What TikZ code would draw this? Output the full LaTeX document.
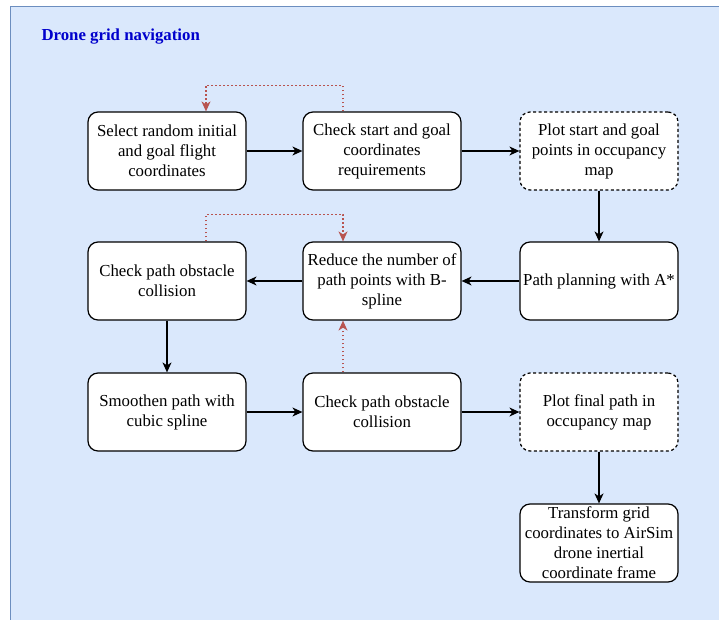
\documentclass[tikz,border=0pt]{standalone}
\usepackage{fontspec}
\setmainfont{Liberation Serif}
\usetikzlibrary{arrows.meta,calc}
\definecolor{panelfill}{HTML}{DAE8FC}
\definecolor{panelline}{HTML}{6C8EBF}
\definecolor{loopred}{HTML}{B85450}
\definecolor{titleblue}{HTML}{0000CC}
\begin{document}
\begin{tikzpicture}[x=1pt,y=-1pt,
  stepbox/.style={draw=black, line width=1.2pt, fill=white, rounded corners=10pt,
    minimum width=158pt, minimum height=78pt, inner sep=0pt, align=center,
    font=\fontsize{16.8}{20}\selectfont},
  planbox/.style={stepbox, dashed, dash pattern=on 3pt off 2.5pt},
  flow/.style={draw=black, line width=1.2pt, -{Stealth[length=10pt,width=9pt,inset=3pt]}},
  backloop/.style={draw=loopred, line width=1.4pt, dash pattern=on 1.6pt off 2.4pt,
    -{Stealth[length=10pt,width=9pt,inset=3pt,fill=loopred,sep=0pt]}}]
\useasboundingbox (0,0) rectangle (719,620);
\clip (0,0) rectangle (719,620);
% panel
\draw[fill=panelfill, draw=panelline, line width=1.2pt] (10.5,6.5) rectangle (740,640);
\node[anchor=west, text=titleblue, font=\fontsize{16.8}{20}\selectfont\bfseries] (title) at (38,37) {Drone grid navigation};
% steps
\node[stepbox] (b1) at (167,151) {Select random initial\\and goal flight\\coordinates};
\node[stepbox] (b2) at (382,151) {Check start and goal\\coordinates\\requirements};
\node[planbox] (b3) at (599,151) {Plot start and goal\\points in occupancy\\map};
\node[stepbox] (b4) at (599,281) {Path planning with A*};
\node[stepbox] (b5) at (382,281) {Reduce the number of\\path points with B-\\spline};
\node[stepbox] (b6) at (167,281) {Check path obstacle\\collision};
\node[stepbox] (b7) at (167,412) {Smoothen path with\\cubic spline};
\node[stepbox] (b8) at (382,412) {Check path obstacle\\collision};
\node[planbox] (b9) at (599,412) {Plot final path in\\occupancy map};
\node[stepbox] (b10) at (599,543) {Transform grid\\coordinates to AirSim\\drone inertial\\coordinate frame};
% main flow
\draw[flow] (b1) -- (b2);
\draw[flow] (b2) -- (b3);
\draw[flow] (b3) -- (b4);
\draw[flow] (b4) -- (b5);
\draw[flow] (b5) -- (b6);
\draw[flow] (b6) -- (b7);
\draw[flow] (b7) -- (b8);
\draw[flow] (b8) -- (b9);
\draw[flow] (b9) -- (b10);
% feedback loops
\draw[backloop] ([xshift=-39pt]b2.north) -- ++(0,-26) -| ([xshift=39pt]b1.north);
\draw[backloop] ([xshift=39pt]b6.north) -- ++(0,-27) -| ([xshift=-39pt]b5.north);
\draw[backloop] ([xshift=-39pt]b8.north) -- ([xshift=-39pt]b5.south);
\end{tikzpicture}
\end{document}
